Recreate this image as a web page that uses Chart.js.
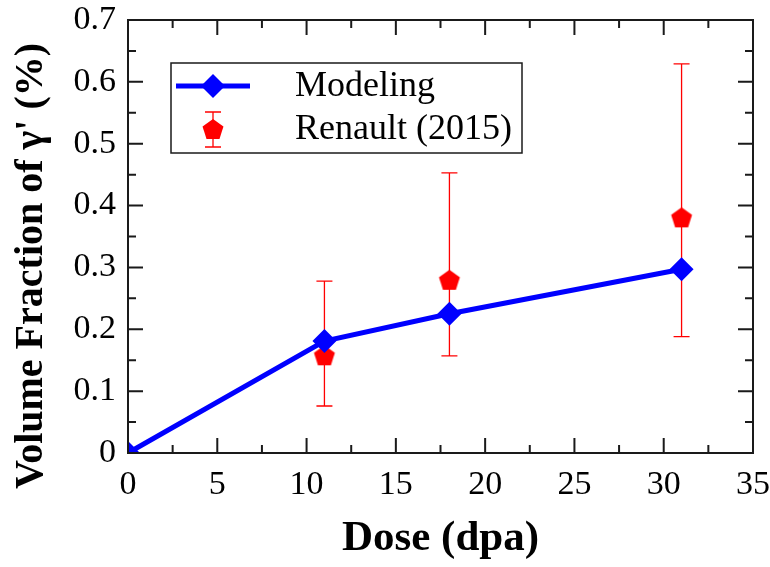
<!DOCTYPE html>
<html>
<head>
<meta charset="utf-8">
<script src="https://cdn.jsdelivr.net/npm/chart.js@4/dist/chart.umd.min.js"></script>
<style>
  html, body { margin: 0; padding: 0; background: #fff; }
  #wrap { width: 770px; height: 567px; position: relative; }
</style>
</head>
<body>
<div id="wrap"><canvas id="chart"></canvas></div>
<script>
// data
const modelDose = [0, 11, 18, 31];
const modelFraction = [0, 0.181, 0.225, 0.297];
const expDose = [11, 18, 31];
const expFraction = [0.158, 0.280, 0.381];
const expLow = [0.076, 0.157, 0.188];
const expHigh = [0.278, 0.453, 0.629];
const xMajor = [0, 5, 10, 15, 20, 25, 30, 35];
const yMajor = [0, 0.1, 0.2, 0.3, 0.4, 0.5, 0.6, 0.7];
const xMinor = [2.5, 7.5, 12.5, 17.5, 22.5, 27.5, 32.5];
const yMinor = [0.05, 0.15, 0.25, 0.35, 0.45, 0.55, 0.65];

const SERIF = "'Liberation Serif', 'Times New Roman', serif";
const BLUE = "#0000ff";
const RED = "#ff0000";

// pentagon marker (Chart.js has no pentagon point style)
function makePentagon(r, color) {
  const c = document.createElement("canvas");
  const s = Math.ceil(r * 2 + 2);
  c.width = s; c.height = s;
  const g = c.getContext("2d");
  g.fillStyle = color;
  g.beginPath();
  for (let k = 0; k < 5; k++) {
    const a = -Math.PI / 2 + k * 2 * Math.PI / 5;
    const px = s / 2 + r * Math.cos(a);
    const py = s / 2 + r * Math.sin(a) + 1;
    if (k === 0) g.moveTo(px, py); else g.lineTo(px, py);
  }
  g.closePath();
  g.fill();
  return c;
}
const pentagon = makePentagon(11, RED);

const errorBarsPlugin = {
  id: "errorBars",
  beforeDatasetsDraw(chart) {
    const { ctx, scales } = chart;
    ctx.save();
    ctx.strokeStyle = RED;
    ctx.lineWidth = 1.3;
    expDose.forEach((d, i) => {
      const x = scales.x.getPixelForValue(d);
      const y1 = scales.y.getPixelForValue(expLow[i]);
      const y2 = scales.y.getPixelForValue(expHigh[i]);
      ctx.beginPath();
      ctx.moveTo(x, y1); ctx.lineTo(x, y2);
      ctx.moveTo(x - 8, y1); ctx.lineTo(x + 8, y1);
      ctx.moveTo(x - 8, y2); ctx.lineTo(x + 8, y2);
      ctx.stroke();
    });
    ctx.restore();
  }
};

const frameTicksPlugin = {
  id: "frameTicks",
  afterDraw(chart) {
    const { ctx, chartArea: a, scales } = chart;
    ctx.save();
    ctx.strokeStyle = "#1a1a1a";
    ctx.lineWidth = 2;
    ctx.strokeRect(a.left, a.top, a.right - a.left, a.bottom - a.top);
    ctx.beginPath();
    const tick = (vals, len, horiz) => {
      vals.forEach(v => {
        if (horiz) {
          const x = scales.x.getPixelForValue(v);
          ctx.moveTo(x, a.bottom); ctx.lineTo(x, a.bottom - len);
          ctx.moveTo(x, a.top); ctx.lineTo(x, a.top + len);
        } else {
          const y = scales.y.getPixelForValue(v);
          ctx.moveTo(a.left, y); ctx.lineTo(a.left + len, y);
          ctx.moveTo(a.right, y); ctx.lineTo(a.right - len, y);
        }
      });
    };
    tick(xMajor, 15, true);
    tick(xMinor, 8, true);
    tick(yMajor, 15, false);
    tick(yMinor, 8, false);
    ctx.stroke();

    // y axis title
    ctx.fillStyle = "#000";
    ctx.font = "bold 40px " + SERIF;
    ctx.textAlign = "center";
    ctx.textBaseline = "middle";
    ctx.translate(32, 266);
    ctx.rotate(-Math.PI / 2);
    ctx.fillText("Volume Fraction of \u03b3' (%)", 0, 0);
    ctx.restore();
  }
};

const boxLegendPlugin = {
  id: "boxLegend",
  afterDraw(chart) {
    const { ctx } = chart;
    const ds = chart.data.datasets;
    ctx.save();
    ctx.fillStyle = "#fff";
    ctx.fillRect(171, 63, 351, 90);
    ctx.strokeStyle = "#1a1a1a";
    ctx.lineWidth = 1.5;
    ctx.strokeRect(171, 63, 351, 90);

    // modeling sample
    ctx.strokeStyle = BLUE;
    ctx.lineWidth = 5;
    ctx.beginPath();
    ctx.moveTo(176, 86); ctx.lineTo(250, 86);
    ctx.stroke();
    ctx.fillStyle = BLUE;
    ctx.beginPath();
    ctx.moveTo(213, 74); ctx.lineTo(225, 86); ctx.lineTo(213, 98); ctx.lineTo(201, 86);
    ctx.closePath();
    ctx.fill();

    // experiment sample
    ctx.strokeStyle = RED;
    ctx.lineWidth = 1.3;
    ctx.beginPath();
    ctx.moveTo(213, 112); ctx.lineTo(213, 147);
    ctx.moveTo(205, 112); ctx.lineTo(221, 112);
    ctx.moveTo(205, 147); ctx.lineTo(221, 147);
    ctx.stroke();
    ctx.drawImage(pentagon, 213 - pentagon.width / 2, 129 - pentagon.height / 2);

    ctx.fillStyle = "#000";
    ctx.font = "36px " + SERIF;
    ctx.textAlign = "left";
    ctx.textBaseline = "middle";
    ctx.fillText(ds[0].label, 295, 87);
    ctx.fillText(ds[1].label, 295, 130);
    ctx.restore();
  }
};

new Chart(document.getElementById("chart"), {
  type: "line",
  data: {
    datasets: [
      {
        label: "Modeling",
        data: modelDose.map((d, i) => ({ x: d, y: modelFraction[i] })),
        borderColor: BLUE,
        backgroundColor: BLUE,
        borderWidth: 5,
        pointStyle: "rectRot",
        pointRadius: 12,
        pointBorderWidth: 0,
        tension: 0,
        clip: 0,
        order: 0
      },
      {
        label: "Renault (2015)",
        data: expDose.map((d, i) => ({ x: d, y: expFraction[i] })),
        showLine: false,
        pointStyle: pentagon,
        pointRadius: 11,
        borderColor: RED,
        backgroundColor: RED,
        clip: 0,
        order: 1
      }
    ]
  },
  options: {
    responsive: true,
    maintainAspectRatio: false,
    animation: false,
    devicePixelRatio: 1,
    layout: { padding: { top: 20, right: 17, left: 0, bottom: 0 } },
    plugins: {
      legend: { display: false },
      tooltip: { enabled: false }
    },
    scales: {
      x: {
        type: "linear",
        min: 0,
        max: 35,
        afterFit(scale) {
          scale.height = 114;
          scale.paddingLeft = 0;
          scale.paddingRight = 0;
        },
        grid: { display: false, drawTicks: false },
        border: { display: false },
        ticks: {
          stepSize: 5,
          padding: 12,
          color: "#000",
          font: { family: SERIF, size: 34 }
        },
        title: {
          display: true,
          text: "Dose (dpa)",
          color: "#000",
          font: { family: SERIF, size: 43, weight: "bold" },
          padding: { top: 0, bottom: 2 }
        }
      },
      y: {
        type: "linear",
        min: 0,
        max: 0.7,
        afterFit(scale) {
          scale.width = 128;
          scale.paddingTop = 0;
          scale.paddingBottom = 0;
        },
        grid: { display: false, drawTicks: false },
        border: { display: false },
        ticks: {
          stepSize: 0.1,
          padding: 12,
          color: "#000",
          font: { family: SERIF, size: 34 },
          callback: v => String(Math.round(v * 10) / 10)
        }
      }
    }
  },
  plugins: [errorBarsPlugin, frameTicksPlugin, boxLegendPlugin]
});
</script>
</body>
</html>
